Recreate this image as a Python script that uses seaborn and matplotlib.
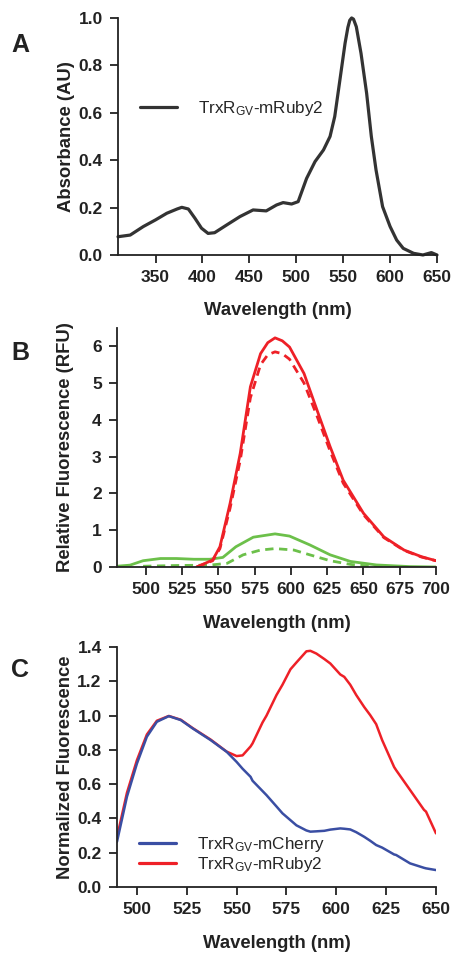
import pandas as pd
import seaborn as sns
import matplotlib.pyplot as plt

# ---- Panel A: absorbance of TrxR_GV-mRuby2 ----
abs_nm = [310, 323, 337, 350, 362, 373, 378, 385, 392, 399, 406, 413, 426, 440,
          454, 468, 479, 486, 495, 502, 511, 520, 529, 536, 541, 546, 552, 555,
          557, 559, 561, 564, 569, 575, 580, 585, 592, 600, 607, 614, 625, 635,
          644, 650]
abs_val = [0.077, 0.084, 0.12, 0.148, 0.176, 0.194, 0.201, 0.194, 0.155, 0.113,
           0.091, 0.094, 0.127, 0.162, 0.19, 0.186, 0.211, 0.221, 0.215, 0.225,
           0.323, 0.394, 0.443, 0.5, 0.584, 0.724, 0.893, 0.96, 0.99, 1.0, 0.995,
           0.963, 0.851, 0.682, 0.5, 0.359, 0.204, 0.12, 0.063, 0.028, 0.007,
           0.0, 0.01, 0.0]

# ---- Panel B: relative fluorescence ----
red_nm = [535, 546, 551, 558, 565, 572, 579, 584, 589, 594, 599, 609, 618, 627,
          636, 650, 664, 678, 690, 700]
red_solid = [0.0, 0.19, 0.55, 1.73, 3.09, 4.9, 5.8, 6.1, 6.23, 6.15, 5.98, 5.26,
             4.26, 3.27, 2.36, 1.46, 0.82, 0.46, 0.28, 0.17]
red_dash = [0.0, 0.17, 0.5, 1.6, 2.9, 4.6, 5.5, 5.77, 5.85, 5.8, 5.65, 5.0,
            4.1, 3.15, 2.28, 1.42, 0.8, 0.45, 0.27, 0.17]

green_nm = [480, 489, 498, 510, 521, 533, 544, 553, 562, 574, 589, 599, 613, 627,
            641, 659, 682, 700]
green_solid = [0.02, 0.05, 0.17, 0.23, 0.23, 0.21, 0.21, 0.26, 0.55, 0.81, 0.9,
               0.84, 0.6, 0.33, 0.15, 0.055, 0.01, 0.0]
green_dash_nm = [498, 521, 544, 556, 567, 579, 589, 602, 613, 627, 641, 655, 665]
green_dash = [0.02, 0.04, 0.05, 0.1, 0.33, 0.46, 0.5, 0.46, 0.33, 0.17, 0.07,
              0.02, 0.0]

# ---- Panel C: normalized fluorescence ----
c_nm = [490, 495, 500, 505, 510, 516, 522, 528, 537, 545, 550, 553, 557, 558,
        563, 565, 570, 573, 577, 580, 585, 587, 590, 594, 597, 602, 604, 607,
        610, 614, 617, 620, 623, 629, 630, 637, 644, 645, 650]
cherry = [0.264, 0.527, 0.72, 0.877, 0.964, 0.997, 0.974, 0.925, 0.857, 0.789,
          0.73, 0.69, 0.643, 0.62, 0.56, 0.536, 0.47, 0.43, 0.39, 0.36, 0.33,
          0.323, 0.325, 0.328, 0.335, 0.342, 0.34, 0.336, 0.32, 0.293, 0.27,
          0.245, 0.23, 0.19, 0.187, 0.138, 0.112, 0.109, 0.099]
ruby = [0.29, 0.55, 0.74, 0.89, 0.97, 0.998, 0.976, 0.927, 0.86, 0.79, 0.764,
        0.768, 0.82, 0.838, 0.96, 1.0, 1.12, 1.18, 1.27, 1.31, 1.375, 1.378,
        1.362, 1.33, 1.304, 1.24, 1.226, 1.18, 1.12, 1.05, 1.003, 0.95, 0.857,
        0.7, 0.682, 0.566, 0.45, 0.44, 0.313]

LBL_CHERRY = r"TrxR$_{GV}$-mCherry"
LBL_RUBY = r"TrxR$_{GV}$-mRuby2"

DARK = "#333333"
RED = "#ee2027"
GREEN = "#6cc04a"
BLUE = "#3a4ea3"

sns.set_theme(style="ticks")
plt.rcParams['font.family'] = ['Liberation Sans', 'DejaVu Sans']
plt.rcParams['mathtext.default'] = 'regular'

fig = plt.figure(figsize=(4.62, 9.6), dpi=100)
axA = fig.add_axes([0.2554, 0.7344, 0.6905, 0.2469])
axB = fig.add_axes([0.2532, 0.4094, 0.6905, 0.2490])
axC = fig.add_axes([0.2532, 0.0760, 0.6905, 0.2500])


def style_axis(ax, ylabel):
    for s in ["top", "right"]:
        ax.spines[s].set_visible(False)
    for s in ["left", "bottom"]:
        ax.spines[s].set_linewidth(1.3)
        ax.spines[s].set_color("#222222")
    ax.tick_params(direction="out", length=6, width=1.3, pad=5,
                   labelsize=12.5, colors="#222222")
    for lab in ax.get_xticklabels() + ax.get_yticklabels():
        lab.set_fontweight("bold")
    ax.set_xlabel("Wavelength (nm)", fontsize=13.3, fontweight="bold", color="#222222")
    ax.set_ylabel(ylabel, fontsize=13.3, fontweight="bold", color="#222222")
    ax.yaxis.set_label_coords(-0.135, 0.5)
    ax.xaxis.set_label_coords(0.5, -0.2)


# Panel A
dfA = pd.DataFrame({"nm": abs_nm, "val": abs_val})
sns.lineplot(data=dfA, x="nm", y="val", ax=axA, color=DARK, linewidth=2.3,
             label=LBL_RUBY, clip_on=False)
axA.set_xlim(310, 650)
axA.set_ylim(0, 1.0)
axA.set_xticks([350, 400, 450, 500, 550, 600, 650])
axA.set_yticks([0.0, 0.2, 0.4, 0.6, 0.8, 1.0])
axA.set_yticklabels(["0.0", "0.2", "0.4", "0.6", "0.8", "1.0"])
style_axis(axA, "Absorbance (AU)")
axA.legend(loc="center left", bbox_to_anchor=(0.02, 0.62), frameon=False,
           fontsize=12.3, handlelength=2.2, handletextpad=1.2)

# Panel B
dfBr = pd.DataFrame({"nm": red_nm, "solid": red_solid, "dash": red_dash})
dfBg = pd.DataFrame({"nm": green_nm, "solid": green_solid})
dfBgd = pd.DataFrame({"nm": green_dash_nm, "dash": green_dash})
sns.lineplot(data=dfBg, x="nm", y="solid", ax=axB, color=GREEN, linewidth=2.0)
sns.lineplot(data=dfBgd, x="nm", y="dash", ax=axB, color=GREEN, linewidth=2.0,
             linestyle=(0, (3, 2)))
sns.lineplot(data=dfBr, x="nm", y="dash", ax=axB, color=RED, linewidth=2.0,
             linestyle=(0, (3, 2)))
sns.lineplot(data=dfBr, x="nm", y="solid", ax=axB, color=RED, linewidth=2.0)
axB.set_xlim(480, 700)
axB.set_ylim(0, 6.5)
axB.set_xticks([500, 525, 550, 575, 600, 625, 650, 675, 700])
axB.set_yticks([0, 1, 2, 3, 4, 5, 6])
style_axis(axB, "Relative Fluorescence (RFU)")

# Panel C
dfC = pd.DataFrame({"nm": c_nm + c_nm,
                    "val": cherry + ruby,
                    "sample": [LBL_CHERRY] * len(c_nm) + [LBL_RUBY] * len(c_nm)})
sns.lineplot(data=dfC, x="nm", y="val", hue="sample", ax=axC,
             palette={LBL_CHERRY: BLUE, LBL_RUBY: RED}, linewidth=1.8,
             hue_order=[LBL_RUBY, LBL_CHERRY])
axC.set_xlim(490, 650)
axC.set_ylim(0, 1.4)
axC.set_xticks([500, 525, 550, 575, 600, 625, 650])
axC.set_yticks([0.0, 0.2, 0.4, 0.6, 0.8, 1.0, 1.2, 1.4])
axC.set_yticklabels(["0.0", "0.2", "0.4", "0.6", "0.8", "1.0", "1.2", "1.4"])
style_axis(axC, "Normalized Fluorescence")
h, l = axC.get_legend_handles_labels()
order = [l.index(LBL_CHERRY), l.index(LBL_RUBY)]
for hh in h:
    hh.set_linewidth(2.3)
axC.legend([h[i] for i in order], [l[i] for i in order], loc="center left",
           bbox_to_anchor=(0.02, 0.135), frameon=False, fontsize=12.3,
           handlelength=2.2, handletextpad=1.2, labelspacing=0.05)

# panel letters
for letter, y in [("A", 45), ("B", 353), ("C", 670)]:
    fig.text(11 / 462, 1 - y / 960, letter, fontsize=18, fontweight="bold",
             va="center", ha="left", color="#222222")

fig.savefig("out.png", dpi=100)
